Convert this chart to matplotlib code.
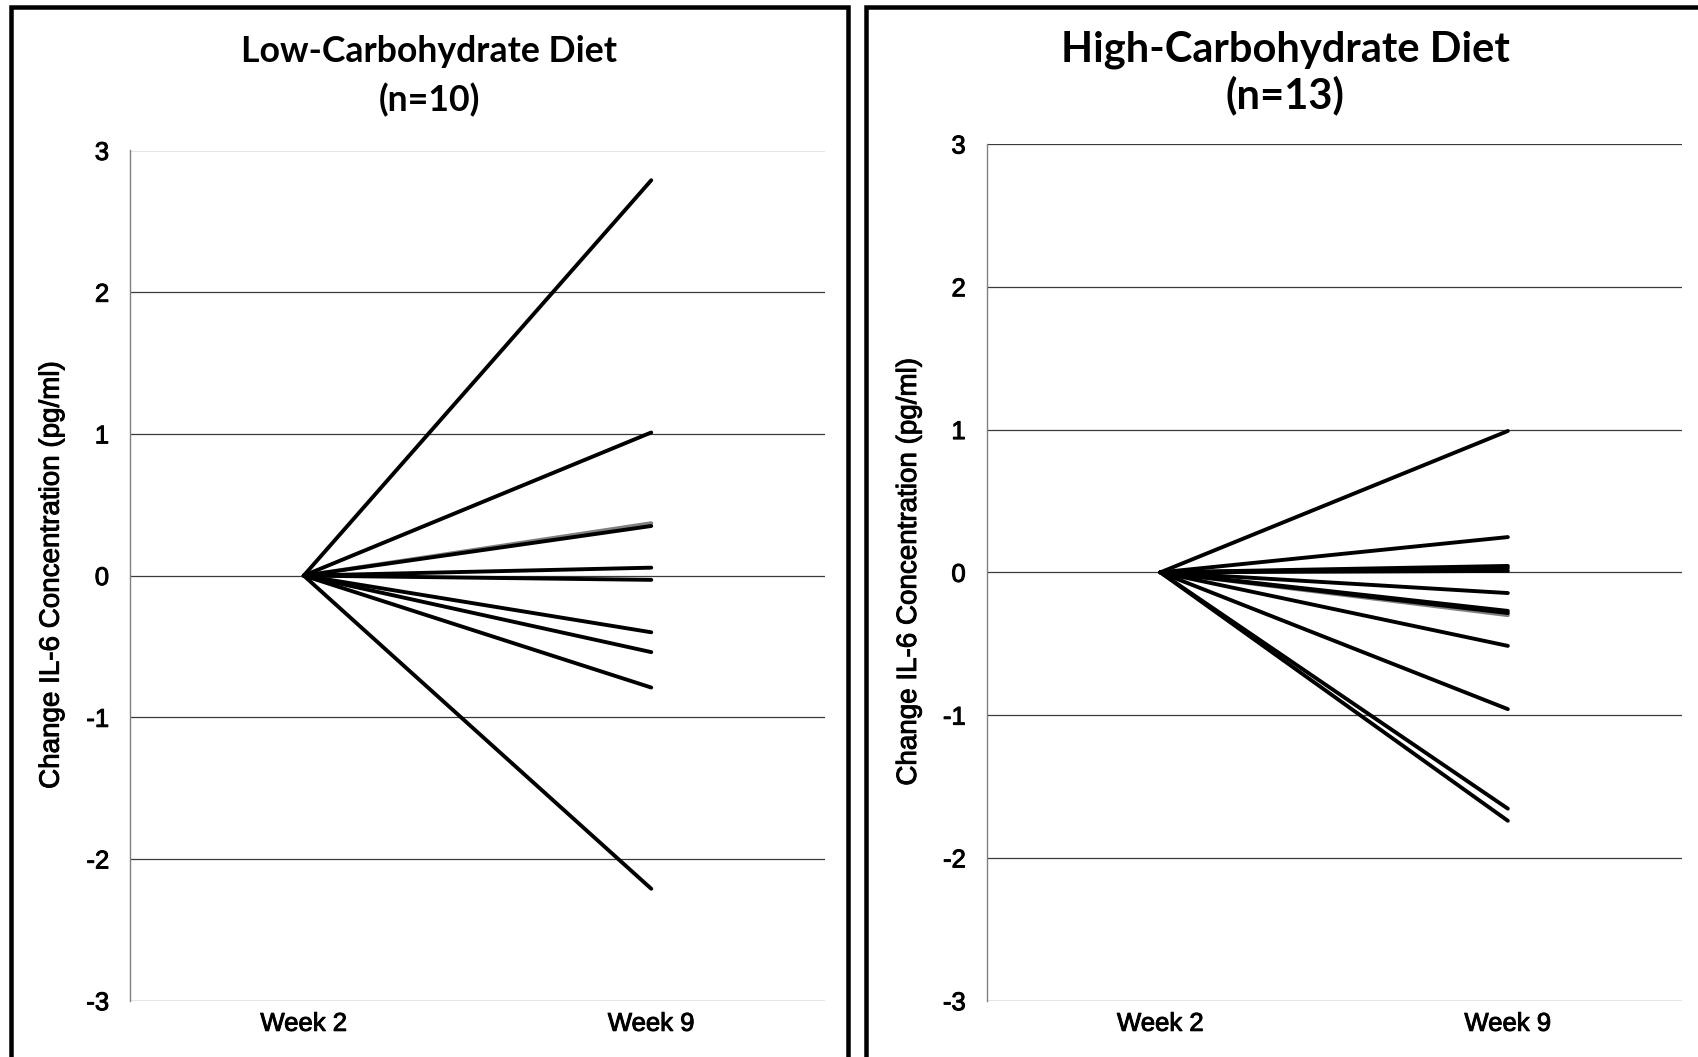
import matplotlib
matplotlib.use("Agg")
import matplotlib.pyplot as plt
from matplotlib.patches import Rectangle
import matplotlib.patheffects as pe

# ---- data ----
weeks = ["Week 2", "Week 9"]
yticks = [-3, -2, -1, 0, 1, 2, 3]

low_title = ["Low-Carbohydrate Diet", "(n=10)"]
low_black = [2.79, 1.01, 0.35, 0.056, -0.03, -0.40, -0.54, -0.79, -2.21]
low_gray = [0.37]

high_title = ["High-Carbohydrate Diet", "(n=13)"]
high_black = [0.99, 0.247, 0.045, 0.03, 0.01, -0.145, -0.27, -0.285,
              -0.515, -0.958, -1.655, -1.74]
high_gray = [-0.30]

ylabel = "Change IL-6 Concentration (pg/ml)"

W, H = 1698, 1057
fig = plt.figure(figsize=(W / 100, H / 100), dpi=100)
fig.patch.set_facecolor("white")

bolden = [pe.withStroke(linewidth=0.7, foreground="black")]
tick_font = dict(family=["Liberation Sans", "DejaVu Sans"], size=18.5)


def draw_panel(rect, black, gray, title, title_x, title_ys, title_size, label_x):
    ax = fig.add_axes(rect)
    for v in gray:
        ax.plot([0, 1], [0, v], color="#808080", lw=2.8, solid_capstyle="round", zorder=3)
    for v in black:
        ax.plot([0, 1], [0, v], color="black", lw=2.8, solid_capstyle="round", zorder=4)
    ax.set_xlim(-0.5, 1.5)
    ax.set_ylim(-3, 3)
    ax.set_xticks([0, 1])
    ax.set_xticklabels(weeks, fontdict=tick_font)
    ax.set_yticks(yticks)
    ax.set_yticklabels([str(t) for t in yticks], fontdict=tick_font)
    for lab in ax.get_xticklabels() + ax.get_yticklabels():
        lab.set_path_effects(bolden)
    ax.tick_params(axis="both", length=0)
    ax.tick_params(axis="y", pad=15)
    ax.tick_params(axis="x", pad=8)
    for t in yticks:
        ax.axhline(t, color="#3a3a3a", lw=0.9, zorder=1)
    for s in ["top", "right", "bottom"]:
        ax.spines[s].set_visible(False)
    ax.spines["left"].set_color("#808080")
    ax.spines["left"].set_linewidth(1.0)
    yl = ax.set_ylabel(ylabel, fontdict=dict(family=["Liberation Sans", "DejaVu Sans"], size=20))
    yl.set_path_effects(bolden)
    ax.yaxis.set_label_coords(label_x, 0.5)
    for txt, ty in zip(title, title_ys):
        fig.text(title_x, 1 - ty / H, txt, ha="center", va="center",
                 family=["Lato", "DejaVu Sans"], fontweight="bold", size=title_size)
    return ax


axL = draw_panel([130 / W, 1 - 1000.7 / H, 695 / W, (1000.7 - 150.5) / H],
                 low_black, low_gray, low_title, 429 / W, (52, 100.5), 25.7, -0.094)
axR = draw_panel([986.6 / W, 1 - 1000.7 / H, 695 / W, (1000.7 - 144) / H],
                 high_black, high_gray, high_title, 1285 / W, (49.5, 95), 30, -0.093)

# panel frames
lw_px = 4.5
fig.patches.append(Rectangle((10.5 / W, -0.05), (848 - 10.5) / W, 1.05 - 7.5 / H,
                             transform=fig.transFigure, fill=False, ec="black",
                             lw=lw_px * 0.72, clip_on=False))
fig.patches.append(Rectangle((866 / W, -0.05), 0.5, 1.05 - 7.5 / H,
                             transform=fig.transFigure, fill=False, ec="black",
                             lw=lw_px * 0.72, clip_on=False))

fig.savefig("out.png", dpi=100, facecolor="white")
